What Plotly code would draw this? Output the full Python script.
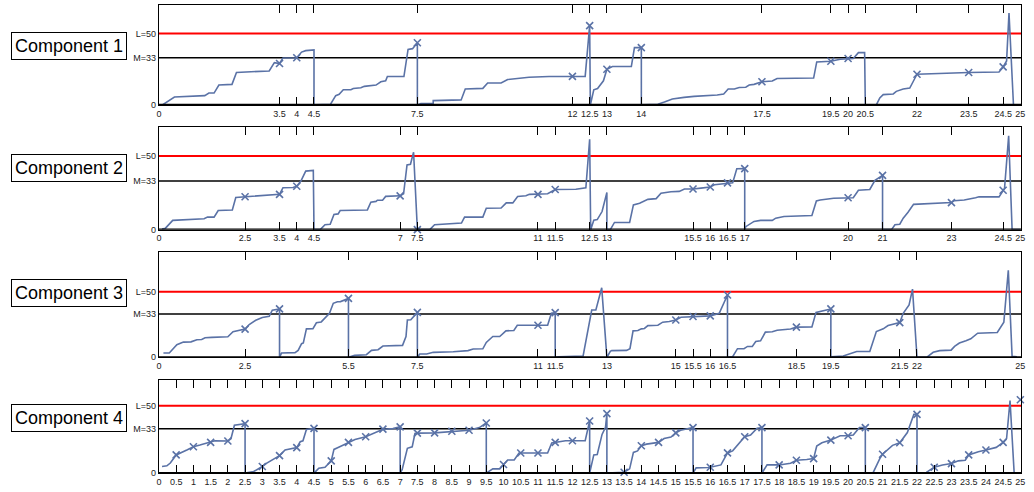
import plotly.graph_objects as go

# ---------------- data ----------------
labels = ["Component 1", "Component 2", "Component 3", "Component 4"]

c1_x = [0.1,0.45,1.33,1.45,1.6,1.74,2.12,2.25,3.2,3.35,3.5,3.6,4.0,4.14,4.26,4.5,4.5,4.98,5.13,5.23,5.35,5.57,5.64,5.86,5.96,6.3,6.44,6.58,6.63,7.11,7.23,7.36,7.5,7.5,7.6,7.96,7.96,8.77,8.89,9.4,9.54,9.93,10.12,10.45,10.74,11.32,12.0,12.37,12.5,12.52,12.62,12.73,12.9,13.0,13.16,13.71,13.8,14.0,14.0,14.48,14.67,14.9,15.24,15.53,16.2,16.39,16.52,16.7,16.84,17.03,17.13,17.27,17.5,17.8,17.94,19.0,19.09,19.5,19.77,20.0,20.15,20.3,20.48,20.5,20.82,20.92,21.02,21.31,21.4,21.6,21.79,21.89,22.0,23.5,24.38,24.5,24.6,24.67,24.8,24.94]
c1_y = [0,5.5,6.5,8.3,8.3,13.9,14.4,22.7,23.8,29.6,29,32.9,33,37,38,38.5,0,0.5,6.5,7.4,10.6,10.6,11.5,12,13,13.9,16.2,16.9,19.9,19.9,38.9,39.4,43.5,0,1,1,3,3.5,11.1,11.6,15.3,15.3,17.8,18.7,19.4,19.9,20,20,55.5,0,10.6,11.5,16.9,25,26.9,26.9,40.1,40.1,0,0.5,2.1,4.2,5.3,6,7,7.6,11.1,11.1,12.2,12.4,13.9,14.4,16.2,16.7,18.5,18.8,30.1,30.6,32,32.5,32.5,36.6,36.6,0,0,4.9,7.2,7.7,9.5,11.1,11.8,16.4,21.5,22.7,23.1,26.6,30.8,64.4,0,0]
c1_mx = [3.5,4,7.5,12,12.5,13,14,17.5,19.5,20,22,23.5,24.5]
c1_my = [29,33,43.5,20,55.5,25,40.1,16.2,30.6,32.5,21.5,22.7,26.6]
c1_ticks = [0,3.5,4,4.5,7.5,12,12.5,13,14,17.5,19.5,20,20.5,22,23.5,24.5,25]

c2_x = [0.09,0.19,0.4,1.31,1.41,1.6,1.72,2.13,2.23,2.5,3.45,3.5,3.6,3.89,4.0,4.12,4.26,4.48,4.5,4.68,4.82,4.97,5.08,5.2,5.26,6.05,6.15,6.3,6.34,6.49,6.58,6.87,7.0,7.1,7.2,7.3,7.39,7.5,7.86,8.0,8.78,8.87,9.4,9.5,9.93,10.08,10.27,10.41,10.65,10.75,11.0,11.28,11.5,12.1,12.39,12.5,12.53,12.62,12.72,12.86,13.0,13.0,13.1,13.22,13.66,13.77,13.95,14.1,14.19,14.43,14.57,14.86,15.1,15.25,15.5,15.73,16.0,16.12,16.3,16.5,16.65,16.77,16.93,17.0,17.0,17.03,17.27,17.46,17.8,17.9,18.14,18.95,19.08,19.19,19.58,20.0,20.15,20.3,20.63,20.78,21.0,21.0,21.26,21.36,21.5,21.6,21.74,21.9,22.65,23.0,23.08,23.37,23.7,23.8,24.38,24.5,24.54,24.66,24.76,25.0]
c2_y = [0.5,1,6.3,7.4,8.5,8.5,13,13.4,21.9,22.4,24.2,24,28.5,28.7,29.5,33,39.8,40.3,0,0,3.3,3.6,10.3,10.7,13,13.4,18.6,19.2,20,20,22.6,23,23,24.4,44,44.5,52.6,0,0,3.3,4.5,8.5,8.5,14.5,14.7,18.2,18.2,22.6,23,24,24,24.4,27.3,27.5,28.4,61.5,0,6.4,6.8,12.3,25.3,0,0,4.9,4.9,16.8,17.9,19.5,20.6,21.1,24.7,25.8,26,27.6,27.6,28.2,29,30.5,31,31.8,31.8,41.4,41.7,41.5,0,2,5.6,6.3,6.3,7.8,8.9,9.6,19.5,20.1,21.3,21.7,21.7,26.8,27.3,33.5,36.9,0,0,3.3,3.7,7.8,11.8,17.2,17.9,18.4,19.7,20.1,21.7,22.3,22.3,26.8,28,63.8,0,0]
c2_mx = [2.5,3.5,4,7,7.5,11,11.5,15.5,16,16.5,17,20,21,23,24.5]
c2_my = [22.4,24,29.5,23,0,24,27.3,27.6,29,31.8,41.5,21.7,36.9,18.4,26.8]
c2_ticks = [0,2.5,3.5,4,4.5,7,7.5,11,11.5,12.5,13,15.5,16,16.5,17,20,21,23,24.5,25]

c3_x = [0.13,0.3,0.52,0.71,0.93,1.1,1.24,1.34,1.53,2.0,2.15,2.29,2.5,2.62,2.81,3.0,3.2,3.29,3.43,3.5,3.5,3.56,3.95,4.04,4.14,4.19,4.28,4.47,4.57,4.71,4.95,5.06,5.18,5.27,5.5,5.5,5.68,6.02,6.17,6.36,6.5,7.07,7.17,7.21,7.31,7.5,7.5,7.57,7.77,7.96,8.54,8.97,9.12,9.4,9.5,9.69,9.89,10.07,10.3,10.4,11.0,11.28,11.39,11.5,11.5,11.6,12.31,12.46,12.56,12.68,12.85,13.0,13.1,13.14,13.57,13.67,13.76,13.9,14.0,14.09,14.19,14.48,14.62,14.81,15.0,15.15,15.5,16.0,16.26,16.5,16.5,16.65,16.79,16.98,17.08,17.22,17.32,17.46,17.6,17.8,17.94,18.23,18.33,18.5,18.95,19.07,19.24,19.5,19.5,19.86,20.25,20.63,20.82,21.02,21.16,21.5,21.6,21.77,21.87,22.0,22.28,22.47,22.66,22.99,23.09,23.23,23.42,23.56,23.76,24.33,24.52,24.65,24.76,24.9]
c3_y = [3.3,3.3,9.6,11.6,11.8,13.4,13.6,14.9,15.2,15.7,19.5,20.2,21.5,25,28.3,30.3,31.3,35.9,36.5,36.9,0,3.3,3.6,5.3,10.4,11,21.7,21.9,26.3,27,33.6,41.2,42.4,42.5,44.9,0,1.5,2,5.3,5.8,8.6,9.1,15.9,28.5,28.6,34.3,0,2.5,2.5,3.8,4.2,5.1,6.3,6.5,11.4,15.9,15.9,20.2,20.5,24.5,24.5,24.5,33.6,34.1,0,0.5,1,23.5,36.1,36.2,53,0,4.5,5.1,5.3,6.6,20.2,20.5,21.7,22,24.2,24.5,26.8,27.3,28.5,30.6,31.1,31.6,33.6,47.5,0,0.5,6.6,6.6,8.3,8.3,12.1,12.6,19.2,19.5,20.7,21.5,21.6,23,23.2,34.3,35.3,36.9,0.5,1,4.5,4.5,19.7,21.7,24.2,26.5,33.6,39.9,52,0,0,3.8,5.1,5.5,8.3,10.9,12.6,14.1,18.4,18.9,26.8,66.4,0.8,0.5]
c3_mx = [2.5,3.5,5.5,7.5,11,11.5,15,15.5,16,16.5,18.5,19.5,21.5]
c3_my = [21.5,36.9,44.9,34.3,24.5,34.1,28.5,31.1,31.6,47.5,23,36.9,26.5]
c3_ticks = [0,2.5,5.5,7.5,11,11.5,13,15,15.5,16,16.5,18.5,19.5,21.5,22,25]

c4_x = [0.09,0.23,0.33,0.5,0.81,1.0,1.19,1.5,1.62,2.0,2.09,2.19,2.5,2.5,2.75,3.0,3.13,3.5,3.66,4.0,4.1,4.18,4.28,4.5,4.5,4.64,4.82,5.0,5.08,5.2,5.5,5.69,6.0,6.21,6.5,6.79,7.0,7.0,7.06,7.21,7.35,7.43,7.5,8.0,8.5,9.0,9.3,9.5,9.5,9.69,9.89,10.0,10.12,10.31,10.45,11.0,11.28,11.4,11.5,11.8,12.0,12.37,12.5,12.5,12.62,12.72,12.86,12.96,13.0,13.0,13.5,13.66,13.77,13.89,14.0,14.15,14.5,14.66,14.86,15.0,15.14,15.5,15.5,15.59,15.93,16.0,16.31,16.5,16.65,16.84,17.0,17.17,17.36,17.5,17.5,17.65,18.0,18.33,18.5,18.8,19.0,19.09,19.24,19.5,19.77,20.0,20.15,20.33,20.5,20.5,20.72,20.92,21.0,21.29,21.5,21.72,21.91,22.0,22.0,22.27,22.5,22.74,23.0,23.2,23.4,23.5,23.78,24.0,24.3,24.5,24.6,24.7,24.82,24.98]
c4_y = [4.9,5.4,7.5,13.5,17.2,19.6,20.8,22.8,24,23.8,25.5,35.5,36.7,0,1.2,4.9,7.4,13,17.2,18.9,23.3,24,32.4,33.2,0,3.7,4.4,9.1,17.6,19,22.8,25,27,29.4,32.6,33,34.3,0,2.7,18.4,19.5,29.4,29.7,29.9,31.1,31.8,33.8,37.2,0,3.2,3.2,6.4,9.8,9.8,14.9,14.9,14.9,22.3,22.8,24,24,24,38.7,0,13.5,13.8,28.7,34,44.1,0,0.7,3.2,15.4,16.5,20.3,21.5,22.8,25.7,26.8,29.9,31.8,33.8,0,3.9,4.2,4.4,6.1,15,16.5,22.3,27,28.2,33.3,33.8,0,6.1,6.1,7.3,9.6,10.1,10.8,20.1,22.5,24.5,27.7,27.7,28.2,33.8,33.8,0,0,10.8,14,20.6,22.5,30.1,43.6,43.6,0,0.5,4.4,6.1,7.1,9.1,9.6,13.5,15.9,17.2,19.1,22.8,25.7,53.9,0,0]
c4_mx = [0.5,1,1.5,2,2.5,3,3.5,4,4.5,5,5.5,6,6.5,7,7.5,8,8.5,9,9.5,10,10.5,11,11.5,12,12.5,13,13.5,14,14.5,15,15.5,16,16.5,17,17.5,18,18.5,19,19.5,20,20.5,21,21.5,22,22.5,23,23.5,24,24.5,25]
c4_my = [13.5,19.6,22.8,23.8,36.7,4.9,13,18.9,33.2,9.1,22.8,27,32.6,34.3,29.7,29.9,31.1,31.8,37.2,6.4,14.9,14.9,22.8,24,38.7,44.1,0.7,20.3,22.8,29.9,33.8,4.4,15,27,33.8,6.1,9.6,10.8,24.5,27.7,33.8,14,22.5,43.6,4.4,7.1,13.5,17.2,22.8,54.4]
c4_ticks = [i * 0.5 for i in range(51)]

y_maxes = [70, 70, 80, 69]
threshold_vals = [0, 33, 50]
threshold_text = ["0", "M=33", "L=50"]

# ---------------- layout geometry ----------------
W, H = 1034, 492
panels_px = [(5, 106), (128, 232), (255, 361), (384, 478)]   # top, bottom pixel
label_px = [46.5, 170, 296, 422]
x_dom = [157 / W, 1025 / W]

series = [(c1_x, c1_y, c1_mx, c1_my, c1_ticks),
          (c2_x, c2_y, c2_mx, c2_my, c2_ticks),
          (c3_x, c3_y, c3_mx, c3_my, c3_ticks),
          (c4_x, c4_y, c4_mx, c4_my, c4_ticks)]

LINE_COLOR = "#5a72a6"
FONT = "Liberation Sans, Arial, sans-serif"

fig = go.Figure()
shapes = []
annotations = []
layout_axes = {}

for i, (xs, ys, mx, my, ticks) in enumerate(series):
    n = i + 1
    xa = "x" if n == 1 else f"x{n}"
    ya = "y" if n == 1 else f"y{n}"
    fig.add_trace(go.Scatter(x=xs, y=ys, mode="lines", xaxis=xa, yaxis=ya,
                             line=dict(color=LINE_COLOR, width=1.6), showlegend=False,
                             hoverinfo="skip"))
    fig.add_trace(go.Scatter(x=mx, y=my, mode="markers", xaxis=xa, yaxis=ya,
                             marker=dict(symbol="x-thin", size=7, color=LINE_COLOR,
                                         line=dict(color=LINE_COLOR, width=1.6)),
                             showlegend=False, hoverinfo="skip", cliponaxis=False))
    top, bot = panels_px[i]
    ydom = [1 - bot / H, 1 - top / H]
    xkey = "xaxis" if n == 1 else f"xaxis{n}"
    ykey = "yaxis" if n == 1 else f"yaxis{n}"
    layout_axes[xkey] = dict(domain=x_dom, anchor=ya, range=[0, 25.02],
                             tickmode="array", tickvals=ticks, tickangle=0,
                             ticks="inside", ticklen=8, tickwidth=1.3, tickcolor="black",
                             showline=True, linecolor="black", linewidth=1, mirror="ticks",
                             showgrid=False, zeroline=False,
                             tickfont=dict(family=FONT, size=9, color="#222"))
    layout_axes[ykey] = dict(domain=ydom, anchor=xa, range=[0, y_maxes[i]],
                             tickmode="array", tickvals=threshold_vals, ticktext=threshold_text,
                             ticks="", showline=True, linecolor="black", linewidth=1, mirror=True,
                             showgrid=False, zeroline=False,
                             tickfont=dict(family=FONT, size=9, color="#222"))
    dref = f"{xa} domain"
    shapes.append(dict(type="line", xref=dref, yref=ya, x0=0, x1=1, y0=50, y1=50,
                       line=dict(color="#ff0000", width=2), layer="below"))
    shapes.append(dict(type="line", xref=dref, yref=ya, x0=0, x1=1, y0=33, y1=33,
                       line=dict(color="black", width=1.5), layer="below"))
    shapes.append(dict(type="line", xref=dref, yref=ya, x0=0, x1=1, y0=0, y1=0,
                       line=dict(color="black", width=2.2), layer="above"))
    annotations.append(dict(text=labels[i], xref="paper", yref="paper",
                            x=66 / W, y=1 - label_px[i] / H, xanchor="center", yanchor="middle",
                            showarrow=False, font=dict(family=FONT, size=18, color="black"),
                            bordercolor="black", borderwidth=1, borderpad=3, bgcolor="white"))

fig.update_layout(width=W, height=H, margin=dict(l=0, r=0, t=0, b=0),
                  paper_bgcolor="white", plot_bgcolor="white",
                  shapes=shapes, annotations=annotations, **layout_axes)

fig.write_html("out.html", config={"displayModeBar": False},
               post_script="document.body.style.margin='0';document.body.style.padding='0';document.body.style.overflow='hidden';")
